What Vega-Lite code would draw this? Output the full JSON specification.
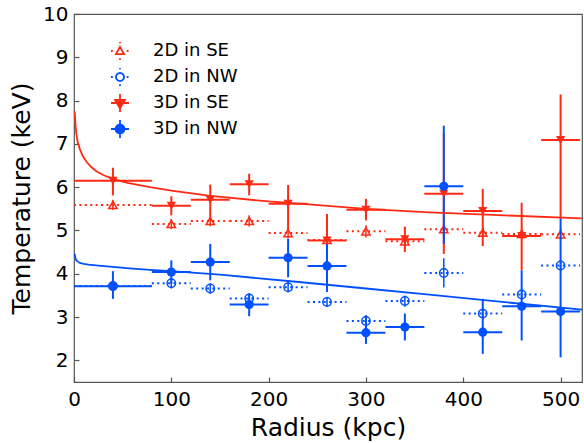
{
  "$schema": "https://vega.github.io/schema/vega-lite/v6.json",
  "width": 508,
  "height": 368,
  "autosize": "none",
  "padding": {"left": 74, "top": 14, "right": 2, "bottom": 61},
  "config": {
    "font": "DejaVu Sans",
    "view": {"stroke": "#555555", "strokeWidth": 1.2},
    "axis": {
      "grid": false,
      "domain": false,
      "tickSize": -5,
      "tickColor": "#555555",
      "tickWidth": 1.2,
      "labelFlush": false,
      "labelFont": "DejaVu Sans",
      "labelFontSize": 20,
      "labelColor": "#000000",
      "titleFont": "DejaVu Sans",
      "titleFontSize": 25,
      "titleFontWeight": "normal",
      "titleColor": "#000000"
    },
    "legend": {
      "labelFont": "DejaVu Sans",
      "labelFontSize": 18,
      "labelColor": "#000000",
      "symbolStrokeWidth": 1.8
    }
  },
  "datasets": {
    "obs": [
      {"s": "2D in SE", "dim": "2D", "r": 40, "rlo": 0, "rhi": 80, "T": 5.59, "Tlo": 5.47, "Thi": 5.71},
      {"s": "2D in SE", "dim": "2D", "r": 100, "rlo": 80, "rhi": 120, "T": 5.15, "Tlo": 5.03, "Thi": 5.27},
      {"s": "2D in SE", "dim": "2D", "r": 140, "rlo": 120, "rhi": 160, "T": 5.22, "Tlo": 5.10, "Thi": 5.34},
      {"s": "2D in SE", "dim": "2D", "r": 180, "rlo": 160, "rhi": 200, "T": 5.22, "Tlo": 5.09, "Thi": 5.35},
      {"s": "2D in SE", "dim": "2D", "r": 220, "rlo": 200, "rhi": 240, "T": 4.94, "Tlo": 4.82, "Thi": 5.06},
      {"s": "2D in SE", "dim": "2D", "r": 260, "rlo": 240, "rhi": 280, "T": 4.78, "Tlo": 4.66, "Thi": 4.90},
      {"s": "2D in SE", "dim": "2D", "r": 300, "rlo": 280, "rhi": 320, "T": 4.98, "Tlo": 4.84, "Thi": 5.12},
      {"s": "2D in SE", "dim": "2D", "r": 340, "rlo": 320, "rhi": 360, "T": 4.75, "Tlo": 4.63, "Thi": 4.87},
      {"s": "2D in SE", "dim": "2D", "r": 380, "rlo": 360, "rhi": 400, "T": 5.03, "Tlo": 4.90, "Thi": 5.16},
      {"s": "2D in SE", "dim": "2D", "r": 420, "rlo": 400, "rhi": 440, "T": 4.95, "Tlo": 4.82, "Thi": 5.08},
      {"s": "2D in SE", "dim": "2D", "r": 460, "rlo": 440, "rhi": 480, "T": 4.92, "Tlo": 4.80, "Thi": 5.04},
      {"s": "2D in SE", "dim": "2D", "r": 500, "rlo": 480, "rhi": 520, "T": 4.91, "Tlo": 4.78, "Thi": 5.04},
      {"s": "2D in NW", "dim": "2D", "r": 40, "rlo": 0, "rhi": 80, "T": 3.72, "Tlo": 3.60, "Thi": 3.84},
      {"s": "2D in NW", "dim": "2D", "r": 100, "rlo": 80, "rhi": 120, "T": 3.78, "Tlo": 3.66, "Thi": 3.90},
      {"s": "2D in NW", "dim": "2D", "r": 140, "rlo": 120, "rhi": 160, "T": 3.66, "Tlo": 3.54, "Thi": 3.78},
      {"s": "2D in NW", "dim": "2D", "r": 180, "rlo": 160, "rhi": 200, "T": 3.43, "Tlo": 3.31, "Thi": 3.55},
      {"s": "2D in NW", "dim": "2D", "r": 220, "rlo": 200, "rhi": 240, "T": 3.69, "Tlo": 3.57, "Thi": 3.81},
      {"s": "2D in NW", "dim": "2D", "r": 260, "rlo": 240, "rhi": 280, "T": 3.35, "Tlo": 3.23, "Thi": 3.47},
      {"s": "2D in NW", "dim": "2D", "r": 300, "rlo": 280, "rhi": 320, "T": 2.91, "Tlo": 2.78, "Thi": 3.04},
      {"s": "2D in NW", "dim": "2D", "r": 340, "rlo": 320, "rhi": 360, "T": 3.37, "Tlo": 3.24, "Thi": 3.50},
      {"s": "2D in NW", "dim": "2D", "r": 380, "rlo": 360, "rhi": 400, "T": 4.02, "Tlo": 3.68, "Thi": 4.36},
      {"s": "2D in NW", "dim": "2D", "r": 420, "rlo": 400, "rhi": 440, "T": 3.08, "Tlo": 2.96, "Thi": 3.20},
      {"s": "2D in NW", "dim": "2D", "r": 460, "rlo": 440, "rhi": 480, "T": 3.52, "Tlo": 3.40, "Thi": 3.64},
      {"s": "2D in NW", "dim": "2D", "r": 500, "rlo": 480, "rhi": 520, "T": 4.19, "Tlo": 4.06, "Thi": 4.32},
      {"s": "3D in SE", "dim": "3D", "r": 40, "rlo": 0, "rhi": 80, "T": 6.15, "Tlo": 5.81, "Thi": 6.45},
      {"s": "3D in SE", "dim": "3D", "r": 100, "rlo": 80, "rhi": 120, "T": 5.57, "Tlo": 5.35, "Thi": 5.79},
      {"s": "3D in SE", "dim": "3D", "r": 140, "rlo": 120, "rhi": 160, "T": 5.71, "Tlo": 5.33, "Thi": 6.06},
      {"s": "3D in SE", "dim": "3D", "r": 180, "rlo": 160, "rhi": 200, "T": 6.07, "Tlo": 5.81, "Thi": 6.31},
      {"s": "3D in SE", "dim": "3D", "r": 220, "rlo": 200, "rhi": 240, "T": 5.62, "Tlo": 5.00, "Thi": 6.05},
      {"s": "3D in SE", "dim": "3D", "r": 260, "rlo": 240, "rhi": 280, "T": 4.77, "Tlo": 4.19, "Thi": 5.38},
      {"s": "3D in SE", "dim": "3D", "r": 300, "rlo": 280, "rhi": 320, "T": 5.48, "Tlo": 5.23, "Thi": 5.73},
      {"s": "3D in SE", "dim": "3D", "r": 340, "rlo": 320, "rhi": 360, "T": 4.80, "Tlo": 4.50, "Thi": 5.09},
      {"s": "3D in SE", "dim": "3D", "r": 380, "rlo": 360, "rhi": 400, "T": 5.85, "Tlo": 4.46, "Thi": 7.24},
      {"s": "3D in SE", "dim": "3D", "r": 420, "rlo": 400, "rhi": 440, "T": 5.45, "Tlo": 4.64, "Thi": 5.96},
      {"s": "3D in SE", "dim": "3D", "r": 460, "rlo": 440, "rhi": 480, "T": 4.87, "Tlo": 4.08, "Thi": 5.64},
      {"s": "3D in SE", "dim": "3D", "r": 500, "rlo": 480, "rhi": 520, "T": 7.09, "Tlo": 5.30, "Thi": 8.14},
      {"s": "3D in NW", "dim": "3D", "r": 40, "rlo": 0, "rhi": 80, "T": 3.71, "Tlo": 3.42, "Thi": 4.06},
      {"s": "3D in NW", "dim": "3D", "r": 100, "rlo": 80, "rhi": 120, "T": 4.04, "Tlo": 3.77, "Thi": 4.31},
      {"s": "3D in NW", "dim": "3D", "r": 140, "rlo": 120, "rhi": 160, "T": 4.27, "Tlo": 3.85, "Thi": 4.69},
      {"s": "3D in NW", "dim": "3D", "r": 180, "rlo": 160, "rhi": 200, "T": 3.29, "Tlo": 3.02, "Thi": 3.54},
      {"s": "3D in NW", "dim": "3D", "r": 220, "rlo": 200, "rhi": 240, "T": 4.37, "Tlo": 3.92, "Thi": 4.81},
      {"s": "3D in NW", "dim": "3D", "r": 260, "rlo": 240, "rhi": 280, "T": 4.18, "Tlo": 3.58, "Thi": 4.68},
      {"s": "3D in NW", "dim": "3D", "r": 300, "rlo": 280, "rhi": 320, "T": 2.64, "Tlo": 2.38, "Thi": 3.04},
      {"s": "3D in NW", "dim": "3D", "r": 340, "rlo": 320, "rhi": 360, "T": 2.77, "Tlo": 2.46, "Thi": 3.08},
      {"s": "3D in NW", "dim": "3D", "r": 380, "rlo": 360, "rhi": 400, "T": 6.02, "Tlo": 4.69, "Thi": 7.42},
      {"s": "3D in NW", "dim": "3D", "r": 420, "rlo": 400, "rhi": 440, "T": 2.65, "Tlo": 2.15, "Thi": 3.42},
      {"s": "3D in NW", "dim": "3D", "r": 460, "rlo": 440, "rhi": 480, "T": 3.25, "Tlo": 2.46, "Thi": 4.08},
      {"s": "3D in NW", "dim": "3D", "r": 500, "rlo": 480, "rhi": 520, "T": 3.13, "Tlo": 2.07, "Thi": 5.31}
    ],
    "fitcurve": [
      {"region": "SE", "r": 0.7, "T": 7.75},
      {"region": "SE", "r": 1.5, "T": 7.45},
      {"region": "SE", "r": 2.4, "T": 7.23},
      {"region": "SE", "r": 4, "T": 7.02},
      {"region": "SE", "r": 6, "T": 6.88},
      {"region": "SE", "r": 9, "T": 6.72},
      {"region": "SE", "r": 13, "T": 6.58},
      {"region": "SE", "r": 18, "T": 6.46},
      {"region": "SE", "r": 23, "T": 6.37},
      {"region": "SE", "r": 30, "T": 6.28},
      {"region": "SE", "r": 40, "T": 6.19},
      {"region": "SE", "r": 55, "T": 6.10},
      {"region": "SE", "r": 78, "T": 6.00},
      {"region": "SE", "r": 100, "T": 5.92},
      {"region": "SE", "r": 140, "T": 5.80},
      {"region": "SE", "r": 200, "T": 5.67},
      {"region": "SE", "r": 231, "T": 5.62},
      {"region": "SE", "r": 300, "T": 5.50},
      {"region": "SE", "r": 365, "T": 5.42},
      {"region": "SE", "r": 430, "T": 5.36},
      {"region": "SE", "r": 522, "T": 5.28},
      {"region": "NW", "r": 0.7, "T": 4.46},
      {"region": "NW", "r": 1.5, "T": 4.36},
      {"region": "NW", "r": 2.4, "T": 4.31},
      {"region": "NW", "r": 4, "T": 4.28},
      {"region": "NW", "r": 6, "T": 4.25},
      {"region": "NW", "r": 10, "T": 4.23},
      {"region": "NW", "r": 15, "T": 4.21},
      {"region": "NW", "r": 25, "T": 4.19},
      {"region": "NW", "r": 40, "T": 4.16},
      {"region": "NW", "r": 60, "T": 4.12},
      {"region": "NW", "r": 78, "T": 4.09},
      {"region": "NW", "r": 100, "T": 4.06},
      {"region": "NW", "r": 150, "T": 3.98},
      {"region": "NW", "r": 231, "T": 3.81},
      {"region": "NW", "r": 300, "T": 3.66},
      {"region": "NW", "r": 365, "T": 3.52},
      {"region": "NW", "r": 440, "T": 3.35},
      {"region": "NW", "r": 522, "T": 3.17}
    ]
  },
  "layer": [
    {
      "data": {"name": "obs"},
      "transform": [{"filter": "datum.dim === '2D'"}],
      "mark": {"type": "rule", "strokeWidth": 2, "strokeDash": [2, 3.4]},
      "encoding": {
        "x": {"field": "rlo", "type": "quantitative", "scale": {"domain": [0, 522], "nice": false, "zero": false},
              "axis": {"title": "Radius (kpc)", "values": [0, 100, 200, 300, 400, 500], "labelPadding": 12, "titlePadding": 6}},
        "x2": {"field": "rhi"},
        "y": {"field": "T", "type": "quantitative", "scale": {"domain": [1.5, 10], "nice": false, "zero": false},
              "axis": {"title": "Temperature (keV)", "values": [2, 3, 4, 5, 6, 7, 8, 9, 10], "labelPadding": 11, "titlePadding": 8}},
        "color": {
          "field": "s", "type": "nominal",
          "scale": {"domain": ["3D in SE", "3D in NW", "2D in SE", "2D in NW"], "range": ["#ff2a14", "#0050ff", "#ff2a14", "#0050ff"]},
          "legend": null
        }
      }
    },
    {
      "data": {"name": "obs"},
      "transform": [{"filter": "datum.dim === '2D'"}],
      "mark": {"type": "rule", "strokeWidth": 1.5},
      "encoding": {
        "x": {"field": "r", "type": "quantitative"},
        "y": {"field": "Tlo", "type": "quantitative"},
        "y2": {"field": "Thi"},
        "color": {"field": "s", "type": "nominal", "legend": null}
      }
    },
    {
      "data": {"name": "obs"},
      "transform": [{"filter": "datum.s === '2D in SE'"}],
      "mark": {"type": "point", "shape": "triangle-up", "filled": false, "strokeWidth": 1.5, "size": 70, "opacity": 1},
      "encoding": {
        "x": {"field": "r", "type": "quantitative"},
        "y": {"field": "T", "type": "quantitative"},
        "color": {"field": "s", "type": "nominal", "legend": null}
      }
    },
    {
      "data": {"name": "obs"},
      "transform": [{"filter": "datum.s === '2D in NW'"}],
      "mark": {"type": "point", "shape": "circle", "filled": false, "strokeWidth": 1.5, "size": 70, "opacity": 1},
      "encoding": {
        "x": {"field": "r", "type": "quantitative"},
        "y": {"field": "T", "type": "quantitative"},
        "color": {"field": "s", "type": "nominal", "legend": null}
      }
    },
    {
      "data": {"name": "obs"},
      "transform": [{"filter": "datum.dim === '3D'"}],
      "mark": {"type": "rule", "strokeWidth": 2},
      "encoding": {
        "x": {"field": "rlo", "type": "quantitative"},
        "x2": {"field": "rhi"},
        "y": {"field": "T", "type": "quantitative"},
        "color": {"field": "s", "type": "nominal", "legend": null}
      }
    },
    {
      "data": {"name": "obs"},
      "transform": [{"filter": "datum.dim === '3D'"}],
      "mark": {"type": "rule", "strokeWidth": 2},
      "encoding": {
        "x": {"field": "r", "type": "quantitative"},
        "y": {"field": "Tlo", "type": "quantitative"},
        "y2": {"field": "Thi"},
        "color": {"field": "s", "type": "nominal", "legend": null}
      }
    },
    {
      "data": {"name": "obs"},
      "transform": [{"filter": "datum.s === '3D in SE'"}],
      "mark": {"type": "point", "shape": "triangle-down", "filled": true, "size": 85, "opacity": 1},
      "encoding": {
        "x": {"field": "r", "type": "quantitative"},
        "y": {"field": "T", "type": "quantitative"},
        "color": {"field": "s", "type": "nominal", "legend": null}
      }
    },
    {
      "data": {"name": "obs"},
      "transform": [{"filter": "datum.s === '3D in NW'"}],
      "mark": {"type": "point", "shape": "circle", "filled": true, "size": 85, "opacity": 1},
      "encoding": {
        "x": {"field": "r", "type": "quantitative"},
        "y": {"field": "T", "type": "quantitative"},
        "color": {"field": "s", "type": "nominal", "legend": null}
      }
    },
    {
      "data": {"name": "fitcurve"},
      "transform": [{"filter": "datum.region === 'SE'"}],
      "mark": {"type": "line", "strokeWidth": 1.8, "color": "#ff2a14"},
      "encoding": {
        "x": {"field": "r", "type": "quantitative"},
        "y": {"field": "T", "type": "quantitative"}
      }
    },
    {
      "data": {"name": "fitcurve"},
      "transform": [{"filter": "datum.region === 'NW'"}],
      "mark": {"type": "line", "strokeWidth": 1.8, "color": "#0050ff"},
      "encoding": {
        "x": {"field": "r", "type": "quantitative"},
        "y": {"field": "T", "type": "quantitative"}
      }
    },
    {
      "data": {"name": "obs"},
      "transform": [{"filter": "datum.r < 0"}],
      "mark": {"type": "point", "strokeWidth": 1.8, "opacity": 1},
      "encoding": {
        "x": {"field": "r", "type": "quantitative"},
        "y": {"field": "T", "type": "quantitative"},
        "stroke": {
          "field": "s", "type": "nominal",
          "scale": {"domain": ["2D in SE", "2D in NW", "3D in SE", "3D in NW"], "range": ["#ff2a14", "#0050ff", "#ff2a14", "#0050ff"]},
          "legend": {
            "title": null,
            "orient": "none",
            "legendX": 36,
            "legendY": 27,
            "padding": 0,
            "labelOffset": 23,
            "rowPadding": 0,
            "symbolSize": 324
          }
        },
        "fill": {
          "field": "s", "type": "nominal",
          "scale": {"domain": ["2D in SE", "2D in NW", "3D in SE", "3D in NW"], "range": ["transparent", "transparent", "#ff2a14", "#0050ff"]},
          "legend": {
            "title": null,
            "orient": "none",
            "legendX": 36,
            "legendY": 27,
            "padding": 0,
            "labelOffset": 23,
            "rowPadding": 0,
            "symbolSize": 324
          }
        },
        "shape": {
          "field": "s", "type": "nominal",
          "scale": {"domain": ["2D in SE", "2D in NW", "3D in SE", "3D in NW"], "range": [
            "M-1,0L-0.8,0M0.75,0L0.95,0M0,-1L0,-0.85M0,0.8L0,1M-0.45,0.35L0.45,0.35L0,-0.45Z",
            "M-1,0L-0.8,0M0.75,0L0.95,0M0,-1L0,-0.85M0,0.8L0,1M0.45,0L0.39,0.225L0.225,0.39L0,0.45L-0.225,0.39L-0.39,0.225L-0.45,0L-0.39,-0.225L-0.225,-0.39L0,-0.45L0.225,-0.39L0.39,-0.225Z",
            "M-1,0L1,0M0,-1L0,1M-0.55,-0.35L0.55,-0.35L0,0.6Z",
            "M-1,0L1,0M0,-1L0,1M0.5,0L0.433,0.25L0.25,0.433L0,0.5L-0.25,0.433L-0.433,0.25L-0.5,0L-0.433,-0.25L-0.25,-0.433L0,-0.5L0.25,-0.433L0.433,-0.25Z"
          ]},
          "legend": {
            "title": null,
            "orient": "none",
            "legendX": 36,
            "legendY": 27,
            "padding": 0,
            "labelOffset": 23,
            "rowPadding": 0,
            "symbolSize": 324
          }
        }
      }
    }
  ]
}
